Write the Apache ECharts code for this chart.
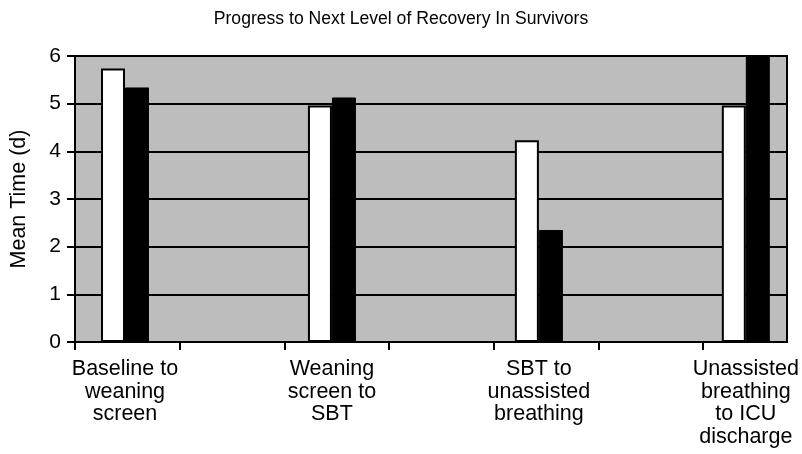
<!DOCTYPE html>
<html>
<head>
<meta charset="utf-8">
<script src="https://cdn.jsdelivr.net/npm/echarts@6/dist/echarts.min.js"></script>
<style>
  html, body { margin: 0; padding: 0; background: #fff; }
  #chart { width: 802px; height: 454px; }
</style>
</head>
<body>
<div id="chart"></div>
<script>
var categories = ['Baseline to\nweaning\nscreen', 'Weaning\nscreen to\nSBT', 'SBT to\nunassisted\nbreathing', 'Unassisted\nbreathing\nto ICU\ndischarge'];
var whiteValues = [5.74, 4.96, 4.23, 4.96];
var blackValues = [5.34, 5.13, 2.35, 6.0];
var yTicks = [0, 1, 2, 3, 4, 5, 6];
var xTickValues = [0, 1, 2, 3, 4, 5, 6];

var font = 'Liberation Sans, Arial, Helvetica, sans-serif';
var myChart = echarts.init(document.getElementById('chart'));
var option = {
    backgroundColor: '#fff',
    animation: false,
    title: {
        text: 'Progress to Next Level of Recovery In Survivors',
        left: 'center',
        top: 5,
        textStyle: { fontFamily: font, fontWeight: 'normal', fontSize: 17.6, color: '#000' }
    },
    grid: [{
        left: 71, right: 15, top: 56, bottom: 112,
        show: true,
        backgroundColor: '#bdbdbd',
        borderColor: '#000',
        borderWidth: 2
    }, {
        left: 125, right: 55, top: 56, bottom: 112,
        show: false
    }],
    xAxis: [{
        gridIndex: 0,
        type: 'value',
        min: 0,
        max: 6.8,
        interval: 1,
        axisLine: { show: true, lineStyle: { color: '#000', width: 2 } },
        axisTick: { show: true, length: 8, customValues: xTickValues, lineStyle: { color: '#000', width: 2 } },
        axisLabel: { show: false },
        splitLine: { show: false }
    }, {
        gridIndex: 1,
        type: 'category',
        data: categories,
        boundaryGap: false,
        axisLine: { show: false },
        axisTick: { show: false },
        axisLabel: {
            interval: 0,
            margin: 16,
            fontFamily: font,
            fontSize: 21.5,
            lineHeight: 22.5,
            color: '#000',
            align: 'center'
        }
    }],
    yAxis: [{
        gridIndex: 0,
        type: 'value',
        min: yTicks[0],
        max: yTicks[yTicks.length - 1],
        interval: 1,
        name: 'Mean Time (d)',
        nameLocation: 'middle',
        nameGap: 45,
        nameTextStyle: { fontFamily: font, fontSize: 21.5, color: '#000' },
        axisLine: { show: true, lineStyle: { color: '#000', width: 2 } },
        axisTick: { show: true, length: 8, lineStyle: { color: '#000', width: 2 } },
        axisLabel: { fontFamily: font, fontSize: 21, color: '#000', margin: 14 },
        splitLine: { show: true, lineStyle: { color: '#000', width: 2 } }
    }, {
        gridIndex: 1,
        type: 'value',
        min: yTicks[0],
        max: yTicks[yTicks.length - 1],
        show: false
    }],
    series: [{
        type: 'bar',
        xAxisIndex: 1,
        yAxisIndex: 1,
        data: whiteValues,
        barWidth: 24,
        barGap: '0%',
        itemStyle: { color: '#fff', borderColor: '#000', borderWidth: 2 }
    }, {
        type: 'bar',
        xAxisIndex: 1,
        yAxisIndex: 1,
        data: blackValues,
        barWidth: 24,
        barGap: '0%',
        itemStyle: { color: '#000', borderColor: '#000', borderWidth: 1 }
    }]
};
myChart.setOption(option);
window.addEventListener('resize', function () {
    myChart.resize();
});
</script>
</body>
</html>
